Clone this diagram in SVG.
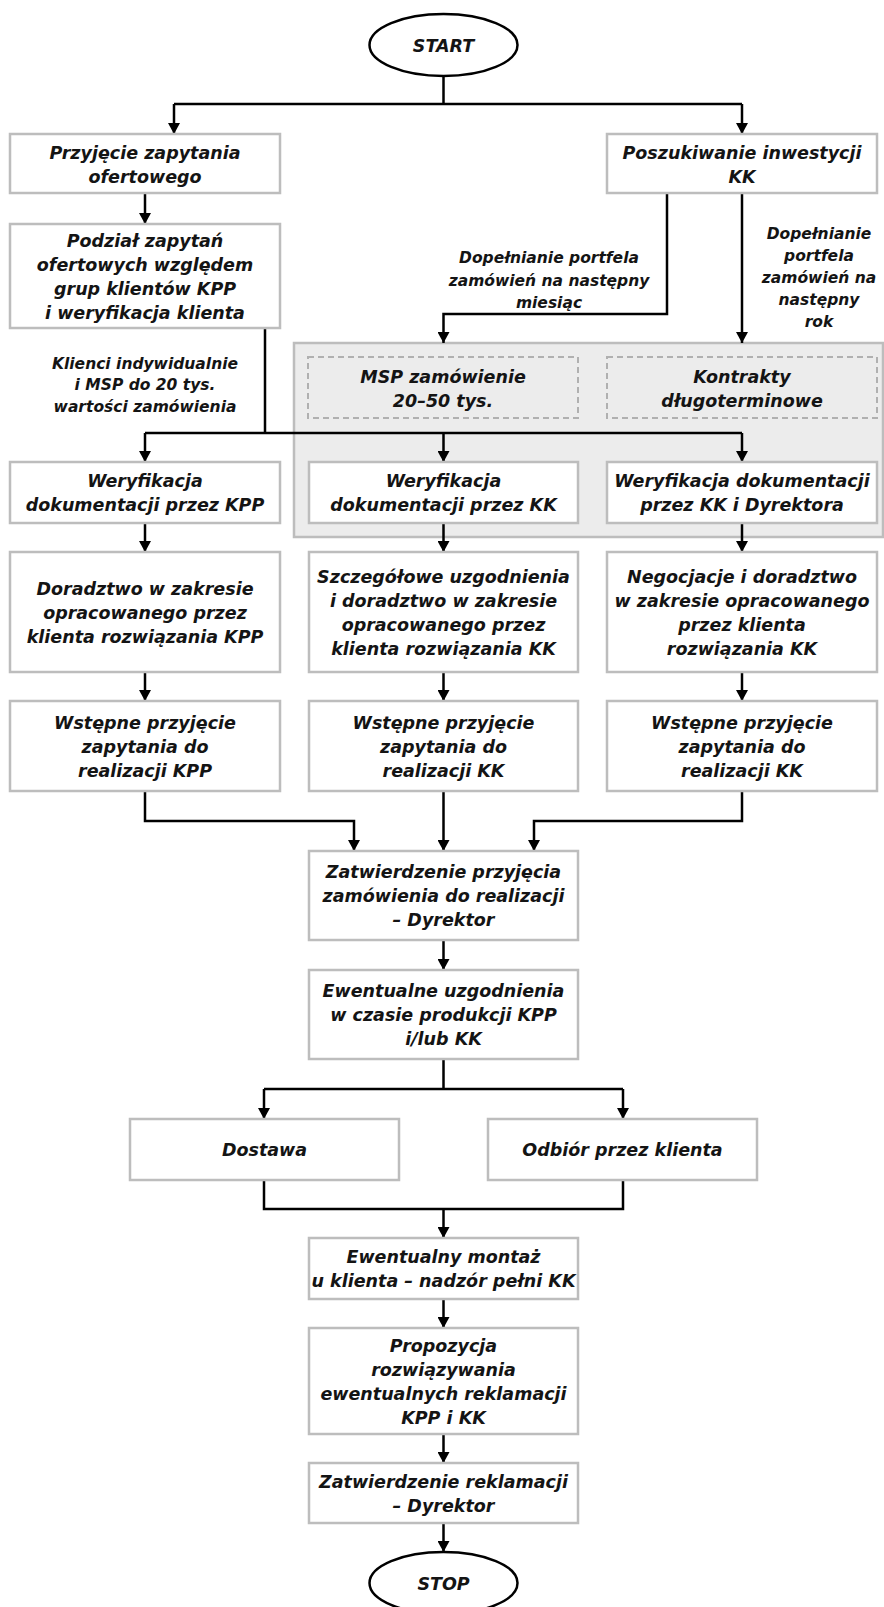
<svg xmlns="http://www.w3.org/2000/svg" width="884" height="1607" viewBox="0 0 884 1607">
<defs>
<marker id="ah" markerUnits="userSpaceOnUse" markerWidth="12" markerHeight="12" refX="11" refY="6" orient="auto">
<path d="M0,0 L11,6 L0,12 Z" fill="#000"/>
</marker>
<style>
.box{fill:#fff;stroke:#bdbdbd;stroke-width:2.5}
.dash{fill:none;stroke:#b0b0b0;stroke-width:2;stroke-dasharray:6 4}
.grp{fill:#ececec;stroke:#bdbdbd;stroke-width:2.5}
.term{fill:#fff;stroke:#000;stroke-width:2.5}
.t{font-family:"DejaVu Sans",sans-serif;font-style:italic;font-weight:bold;font-size:17.5px;fill:#141414;text-anchor:middle}
.l{font-family:"DejaVu Sans",sans-serif;font-style:italic;font-weight:bold;font-size:15.5px;fill:#141414;text-anchor:middle}
.c{fill:none;stroke:#000;stroke-width:2.5}
.a{marker-end:url(#ah)}
</style>
</defs>
<rect width="884" height="1607" fill="#fff"/>

<g id="group-kk">
<rect class="grp" x="294" y="343" width="589" height="194"/>
<rect class="dash" x="308" y="357" width="270" height="61"/>
<text class="t" x="443" y="383">MSP zamówienie</text>
<text class="t" x="443" y="407">20–50 tys.</text>
<rect class="dash" x="607" y="357" width="270" height="61"/>
<text class="t" x="742" y="383">Kontrakty</text>
<text class="t" x="742" y="407">długoterminowe</text>
</g>

<g id="connectors">
<path class="c" d="M443.5,76 V104 M174,104 H742"/>
<path class="c a" d="M174,104 V134"/>
<path class="c a" d="M742,104 V134"/>
<path class="c a" d="M145,193 V224"/>
<path class="c" d="M265,328 V433 M145,433 H742"/>
<path class="c a" d="M145,433 V462"/>
<path class="c a" d="M443.5,433 V462"/>
<path class="c a" d="M742,433 V462"/>
<path class="c a" d="M667,193 V314 H443.5 V343"/>
<path class="c a" d="M742,193 V343"/>
<path class="c a" d="M145,523 V552"/>
<path class="c a" d="M443.5,523 V552"/>
<path class="c a" d="M742,523 V552"/>
<path class="c a" d="M145,672 V701"/>
<path class="c a" d="M443.5,672 V701"/>
<path class="c a" d="M742,672 V701"/>
<path class="c a" d="M145,791 V821 H354 V851"/>
<path class="c a" d="M443.5,791 V851"/>
<path class="c a" d="M742,791 V821 H534 V851"/>
<path class="c a" d="M443.5,940 V970"/>
<path class="c" d="M443.5,1059 V1089 M264,1089 H623"/>
<path class="c a" d="M264,1089 V1119"/>
<path class="c a" d="M623,1089 V1119"/>
<path class="c" d="M264,1180 V1209 H623 V1180"/>
<path class="c a" d="M443.5,1209 V1238"/>
<path class="c a" d="M443.5,1299 V1328"/>
<path class="c a" d="M443.5,1434 V1463"/>
<path class="c a" d="M443.5,1523 V1552"/>
<text class="l" x="549" y="263">Dopełnianie portfela</text>
<text class="l" x="549" y="285.5">zamówień na następny</text>
<text class="l" x="549" y="308">miesiąc</text>
<text class="l" x="819" y="238.5">Dopełnianie</text>
<text class="l" x="819" y="260.5">portfela</text>
<text class="l" x="819" y="282.5">zamówień na</text>
<text class="l" x="819" y="304.5">następny</text>
<text class="l" x="819" y="326.5">rok</text>
<text class="l" x="145" y="368.5">Klienci indywidualnie</text>
<text class="l" x="145" y="390">i MSP do 20 tys.</text>
<text class="l" x="145" y="411.5">wartości zamówienia</text>
</g>

<g id="start">
<ellipse class="term" cx="443.5" cy="45" rx="74" ry="31"/>
<text class="t" x="443.5" y="51.5">START</text>
</g>

<g id="przyjecie">
<rect class="box" x="10" y="134" width="270" height="59"/>
<text class="t" x="145" y="159">Przyjęcie zapytania</text>
<text class="t" x="145" y="183">ofertowego</text>
</g>

<g id="poszukiwanie">
<rect class="box" x="607" y="134" width="270" height="59"/>
<text class="t" x="742" y="159">Poszukiwanie inwestycji</text>
<text class="t" x="742" y="183">KK</text>
</g>

<g id="podzial">
<rect class="box" x="10" y="224" width="270" height="104"/>
<text class="t" x="145" y="246.5">Podział zapytań</text>
<text class="t" x="145" y="270.5">ofertowych względem</text>
<text class="t" x="145" y="294.5">grup klientów KPP</text>
<text class="t" x="145" y="318.5">i weryfikacja klienta</text>
</g>

<g id="wer-kpp">
<rect class="box" x="10" y="462" width="270" height="61"/>
<text class="t" x="145" y="487">Weryfikacja</text>
<text class="t" x="145" y="511">dokumentacji przez KPP</text>
</g>

<g id="wer-kk">
<rect class="box" x="309" y="462" width="269" height="61"/>
<text class="t" x="443.5" y="487">Weryfikacja</text>
<text class="t" x="443.5" y="511">dokumentacji przez KK</text>
</g>

<g id="wer-kk-dyr">
<rect class="box" x="607" y="462" width="270" height="61"/>
<text class="t" x="742" y="487">Weryfikacja dokumentacji</text>
<text class="t" x="742" y="511">przez KK i Dyrektora</text>
</g>

<g id="doradztwo-kpp">
<rect class="box" x="10" y="552" width="270" height="120"/>
<text class="t" x="145" y="594.5">Doradztwo w zakresie</text>
<text class="t" x="145" y="618.5">opracowanego przez</text>
<text class="t" x="145" y="642.5">klienta rozwiązania KPP</text>
</g>

<g id="szczegolowe-kk">
<rect class="box" x="309" y="552" width="269" height="120"/>
<text class="t" x="443.5" y="582.5">Szczegółowe uzgodnienia</text>
<text class="t" x="443.5" y="606.5">i doradztwo w zakresie</text>
<text class="t" x="443.5" y="630.5">opracowanego przez</text>
<text class="t" x="443.5" y="654.5">klienta rozwiązania KK</text>
</g>

<g id="negocjacje-kk">
<rect class="box" x="607" y="552" width="270" height="120"/>
<text class="t" x="742" y="582.5">Negocjacje i doradztwo</text>
<text class="t" x="742" y="606.5">w zakresie opracowanego</text>
<text class="t" x="742" y="630.5">przez klienta</text>
<text class="t" x="742" y="654.5">rozwiązania KK</text>
</g>

<g id="wstepne-kpp">
<rect class="box" x="10" y="701" width="270" height="90"/>
<text class="t" x="145" y="728.5">Wstępne przyjęcie</text>
<text class="t" x="145" y="752.5">zapytania do</text>
<text class="t" x="145" y="776.5">realizacji KPP</text>
</g>

<g id="wstepne-kk1">
<rect class="box" x="309" y="701" width="269" height="90"/>
<text class="t" x="443.5" y="728.5">Wstępne przyjęcie</text>
<text class="t" x="443.5" y="752.5">zapytania do</text>
<text class="t" x="443.5" y="776.5">realizacji KK</text>
</g>

<g id="wstepne-kk2">
<rect class="box" x="607" y="701" width="270" height="90"/>
<text class="t" x="742" y="728.5">Wstępne przyjęcie</text>
<text class="t" x="742" y="752.5">zapytania do</text>
<text class="t" x="742" y="776.5">realizacji KK</text>
</g>

<g id="zatwierdzenie">
<rect class="box" x="309" y="851" width="269" height="89"/>
<text class="t" x="443.5" y="878">Zatwierdzenie przyjęcia</text>
<text class="t" x="443.5" y="902">zamówienia do realizacji</text>
<text class="t" x="443.5" y="926">– Dyrektor</text>
</g>

<g id="uzgodnienia">
<rect class="box" x="309" y="970" width="269" height="89"/>
<text class="t" x="443.5" y="997">Ewentualne uzgodnienia</text>
<text class="t" x="443.5" y="1021">w czasie produkcji KPP</text>
<text class="t" x="443.5" y="1045">i/lub KK</text>
</g>

<g id="dostawa">
<rect class="box" x="130" y="1119" width="269" height="61"/>
<text class="t" x="264.5" y="1156">Dostawa</text>
</g>

<g id="odbior">
<rect class="box" x="488" y="1119" width="269" height="61"/>
<text class="t" x="622.5" y="1156">Odbiór przez klienta</text>
</g>

<g id="montaz">
<rect class="box" x="309" y="1238" width="269" height="61"/>
<text class="t" x="443.5" y="1263">Ewentualny montaż</text>
<text class="t" x="443.5" y="1287">u klienta – nadzór pełni KK</text>
</g>

<g id="propozycja">
<rect class="box" x="309" y="1328" width="269" height="106"/>
<text class="t" x="443.5" y="1351.5">Propozycja</text>
<text class="t" x="443.5" y="1375.5">rozwiązywania</text>
<text class="t" x="443.5" y="1399.5">ewentualnych reklamacji</text>
<text class="t" x="443.5" y="1423.5">KPP i KK</text>
</g>

<g id="reklamacje">
<rect class="box" x="309" y="1463" width="269" height="60"/>
<text class="t" x="443.5" y="1487.5">Zatwierdzenie reklamacji</text>
<text class="t" x="443.5" y="1511.5">– Dyrektor</text>
</g>

<g id="stop">
<ellipse class="term" cx="443.5" cy="1583" rx="74" ry="31"/>
<text class="t" x="443.5" y="1589.5">STOP</text>
</g>
</svg>
